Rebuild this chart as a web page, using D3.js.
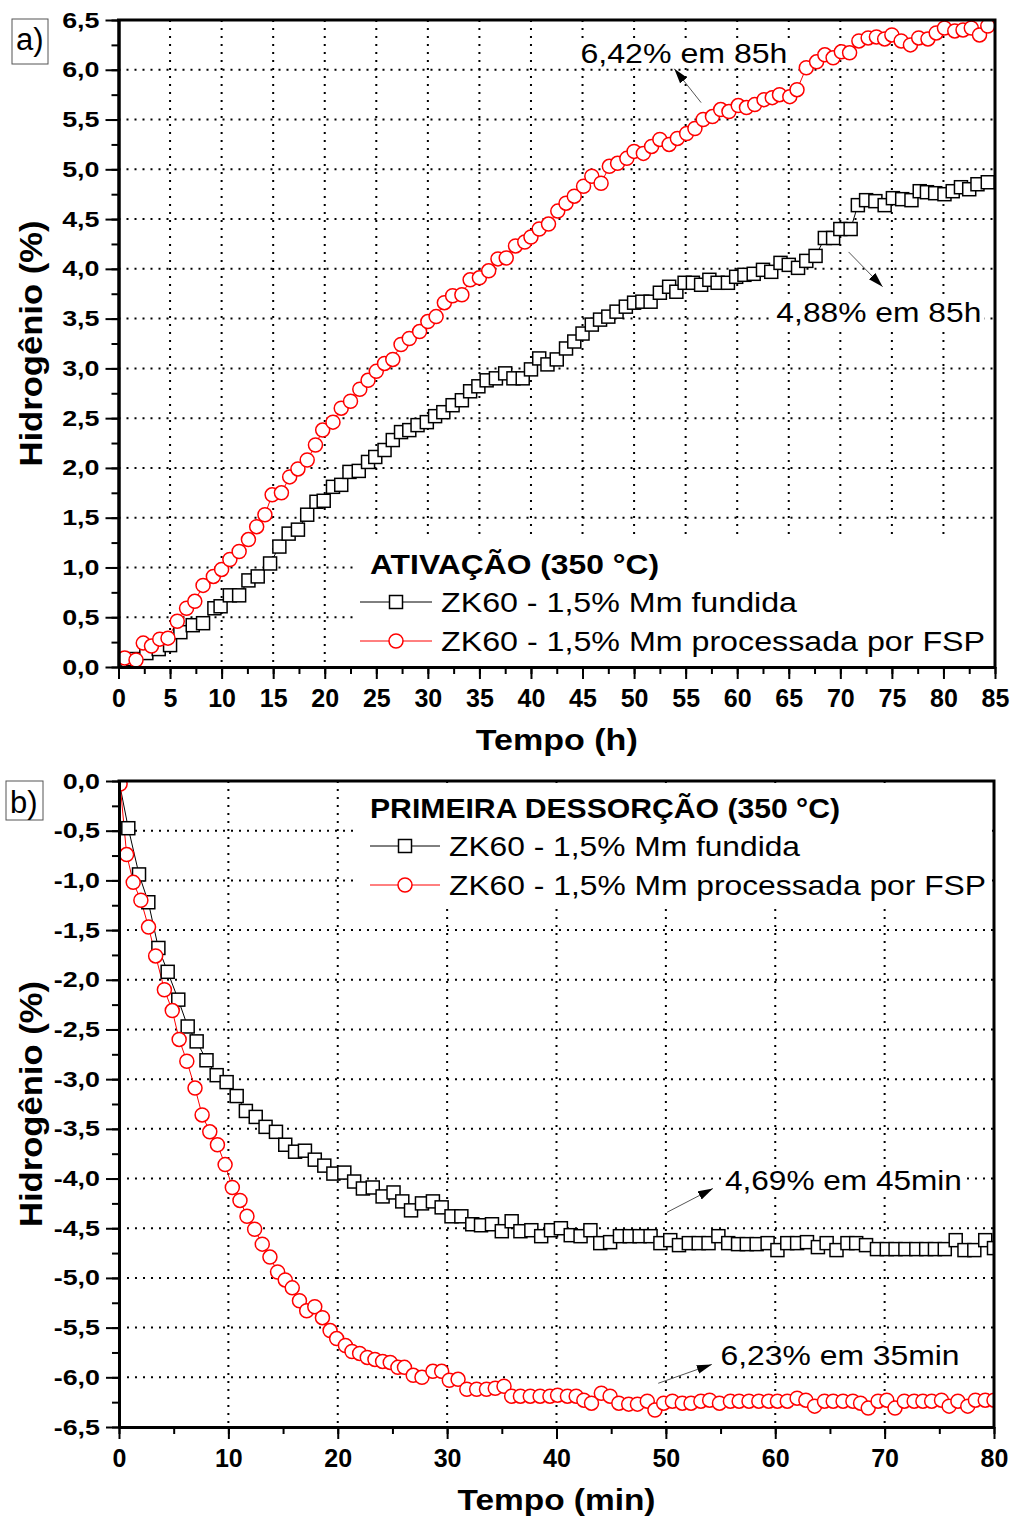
<!DOCTYPE html>
<html>
<head>
<meta charset="utf-8">
<script src="https://cdn.jsdelivr.net/npm/d3@7"></script>
<style>
  body { margin: 0; background: #fff; }
  svg text { font-family: Arial, "Liberation Sans", sans-serif; fill: #000; }
</style>
</head>
<body>
<script>
// panel a) activation at 350 °C, [tempo (h), hidrogenio (%)]
const fundidaA = [[1.4,0.08],[2.7,0.14],[3.9,0.18],[5.0,0.22],[6.0,0.35],[7.2,0.42],[8.2,0.44],[9.3,0.59],[9.9,0.61],[10.8,0.72],[11.7,0.72],[12.6,0.87],[13.5,0.91],[14.7,1.04],[15.6,1.21],[16.5,1.34],[17.4,1.38],[18.3,1.53],[19.2,1.66],[19.9,1.67],[20.8,1.81],[21.6,1.83],[22.4,1.96],[23.3,1.97],[24.2,2.06],[24.9,2.11],[25.8,2.18],[26.6,2.28],[27.4,2.36],[28.2,2.38],[29.0,2.43],[29.9,2.46],[30.7,2.52],[31.5,2.56],[32.4,2.63],[33.3,2.68],[34.1,2.77],[34.9,2.82],[35.7,2.88],[36.6,2.9],[37.5,2.95],[38.3,2.9],[39.2,2.9],[40.0,2.99],[40.8,3.1],[41.6,3.04],[42.5,3.09],[43.4,3.2],[44.2,3.27],[45.0,3.35],[45.9,3.44],[46.7,3.49],[47.5,3.52],[48.3,3.57],[49.2,3.62],[50.0,3.66],[50.8,3.67],[51.6,3.67],[52.5,3.76],[53.4,3.82],[54.1,3.77],[54.9,3.86],[55.7,3.86],[56.5,3.84],[57.3,3.89],[58.1,3.86],[59.1,3.86],[59.9,3.92],[60.7,3.94],[61.6,3.95],[62.5,3.99],[63.3,3.97],[64.2,4.06],[65.0,4.04],[65.9,4.01],[66.7,4.08],[67.6,4.13],[68.5,4.31],[69.3,4.31],[70.0,4.4],[71.0,4.4],[71.7,4.64],[72.5,4.69],[73.4,4.68],[74.3,4.64],[75.1,4.71],[76.0,4.7],[76.9,4.69],[77.7,4.78],[78.4,4.77],[79.2,4.76],[80.1,4.75],[80.9,4.78],[81.7,4.82],[82.5,4.8],[83.3,4.85],[84.3,4.87]];
const fspA = [[0.6,0.09],[1.7,0.07],[2.4,0.24],[3.2,0.21],[4.0,0.28],[4.8,0.29],[5.7,0.46],[6.6,0.59],[7.4,0.66],[8.2,0.82],[9.2,0.91],[10.0,0.98],[10.8,1.08],[11.7,1.16],[12.6,1.28],[13.4,1.41],[14.2,1.53],[14.9,1.73],[15.8,1.75],[16.6,1.91],[17.4,1.99],[18.3,2.08],[19.1,2.23],[19.8,2.38],[20.8,2.46],[21.6,2.6],[22.5,2.67],[23.4,2.79],[24.2,2.88],[25.0,2.97],[25.8,3.05],[26.6,3.09],[27.4,3.24],[28.2,3.3],[29.2,3.37],[30.0,3.47],[30.8,3.52],[31.6,3.66],[32.4,3.73],[33.3,3.74],[34.1,3.89],[35.0,3.91],[35.9,3.98],[36.8,4.1],[37.6,4.11],[38.5,4.23],[39.4,4.27],[40.0,4.32],[40.8,4.4],[41.7,4.45],[42.6,4.58],[43.4,4.66],[44.2,4.73],[45.1,4.83],[45.9,4.93],[46.8,4.86],[47.6,5.03],[48.4,5.06],[49.3,5.11],[50.0,5.18],[50.9,5.16],[51.7,5.23],[52.5,5.3],[53.4,5.25],[54.2,5.31],[55.1,5.36],[55.9,5.41],[56.7,5.5],[57.6,5.53],[58.4,5.6],[59.2,5.58],[60.1,5.64],[60.9,5.62],[61.7,5.65],[62.6,5.7],[63.4,5.72],[64.1,5.75],[65.1,5.73],[65.8,5.8],[66.7,6.02],[67.7,6.08],[68.5,6.15],[69.3,6.12],[70.1,6.18],[70.9,6.17],[71.8,6.29],[72.7,6.32],[73.5,6.33],[74.3,6.31],[75.0,6.35],[75.9,6.29],[76.8,6.25],[77.6,6.32],[78.5,6.31],[79.3,6.37],[80.1,6.42],[81.1,6.39],[81.9,6.4],[82.7,6.42],[83.5,6.35],[84.3,6.44]];

// panel b) first desorption at 350 °C, [tempo (min), hidrogenio (%)]
const fundidaB = [[0.85,-0.475],[1.83,-0.94],[2.68,-1.22],[3.6,-1.68],[4.45,-1.92],[5.42,-2.2],[6.28,-2.47],[7.1,-2.62],[8.0,-2.81],[8.93,-2.96],[9.84,-3.03],[10.76,-3.17],[11.6,-3.32],[12.5,-3.38],[13.4,-3.48],[14.35,-3.53],[15.2,-3.66],[16.1,-3.73],[17.0,-3.72],[17.9,-3.81],[18.77,-3.87],[19.6,-3.95],[20.6,-3.94],[21.5,-4.03],[22.3,-4.1],[23.2,-4.09],[24.1,-4.18],[25.1,-4.14],[25.9,-4.23],[26.7,-4.32],[27.7,-4.25],[28.7,-4.23],[29.5,-4.29],[30.4,-4.38],[31.3,-4.38],[32.3,-4.46],[33.1,-4.47],[34.1,-4.46],[35.0,-4.53],[35.9,-4.43],[36.7,-4.53],[37.7,-4.52],[38.6,-4.58],[39.5,-4.52],[40.4,-4.5],[41.3,-4.57],[42.2,-4.58],[43.1,-4.52],[44.0,-4.65],[44.9,-4.64],[45.8,-4.58],[46.7,-4.58],[47.6,-4.58],[48.6,-4.58],[49.5,-4.65],[50.4,-4.62],[51.2,-4.67],[52.1,-4.65],[53.0,-4.65],[53.9,-4.65],[54.8,-4.58],[55.7,-4.65],[56.6,-4.66],[57.4,-4.66],[58.3,-4.66],[59.3,-4.65],[60.2,-4.72],[61.1,-4.65],[62.0,-4.65],[62.9,-4.64],[63.9,-4.69],[64.7,-4.65],[65.6,-4.72],[66.6,-4.65],[67.4,-4.65],[68.3,-4.67],[69.3,-4.71],[70.2,-4.71],[71.0,-4.71],[71.9,-4.71],[72.9,-4.71],[73.8,-4.71],[74.6,-4.71],[75.5,-4.71],[76.5,-4.62],[77.3,-4.72],[78.2,-4.72],[79.2,-4.62],[80.0,-4.7]];
const fspB = [[0.1,-0.03],[0.7,-0.74],[1.3,-1.02],[2.0,-1.2],[2.7,-1.47],[3.35,-1.76],[4.15,-2.1],[4.87,-2.31],[5.5,-2.6],[6.2,-2.82],[6.95,-3.09],[7.6,-3.36],[8.3,-3.53],[9.0,-3.66],[9.7,-3.86],[10.36,-4.09],[11.06,-4.22],[11.7,-4.38],[12.4,-4.51],[13.1,-4.66],[13.8,-4.79],[14.5,-4.94],[15.2,-5.02],[15.84,-5.1],[16.5,-5.23],[17.16,-5.33],[17.9,-5.29],[18.6,-5.4],[19.3,-5.53],[19.9,-5.61],[20.7,-5.68],[21.3,-5.74],[22.0,-5.76],[22.7,-5.8],[23.4,-5.82],[24.1,-5.84],[24.8,-5.85],[25.5,-5.9],[26.1,-5.9],[26.9,-5.98],[27.7,-6.0],[28.7,-5.94],[29.5,-5.94],[30.2,-6.03],[31.0,-6.02],[31.8,-6.12],[32.7,-6.12],[33.6,-6.12],[34.4,-6.11],[35.2,-6.09],[35.9,-6.19],[36.7,-6.19],[37.6,-6.19],[38.5,-6.19],[39.4,-6.19],[40.1,-6.18],[41.0,-6.19],[41.8,-6.19],[42.5,-6.23],[43.2,-6.26],[44.1,-6.16],[44.9,-6.19],[45.7,-6.26],[46.6,-6.27],[47.4,-6.27],[48.3,-6.24],[49.0,-6.33],[49.8,-6.26],[50.6,-6.24],[51.5,-6.26],[52.3,-6.26],[53.2,-6.24],[54.0,-6.23],[54.9,-6.26],[55.9,-6.24],[56.7,-6.24],[57.6,-6.24],[58.5,-6.24],[59.4,-6.24],[60.2,-6.24],[61.1,-6.24],[62.0,-6.21],[62.8,-6.23],[63.6,-6.29],[64.5,-6.24],[65.3,-6.24],[66.2,-6.24],[67.1,-6.24],[67.8,-6.26],[68.5,-6.31],[69.4,-6.24],[70.2,-6.23],[70.95,-6.31],[71.8,-6.24],[72.7,-6.24],[73.5,-6.24],[74.3,-6.24],[75.2,-6.23],[75.9,-6.29],[76.7,-6.24],[77.6,-6.29],[78.3,-6.23],[79.2,-6.23],[80.0,-6.23]];

const xTicksA = d3.range(0, 86, 5);
const xMinorA = d3.range(0, 86, 2.5);
const yTicksA = d3.range(0, 6.51, 0.5);
const yMinorA = d3.range(0, 6.51, 0.25);
const xTicksB = d3.range(0, 81, 10);
const xMinorB = d3.range(0, 81, 5);
const yTicksB = d3.range(-6.5, 0.01, 0.5);
const yMinorB = d3.range(-6.5, 0.01, 0.25);

const legendNames = ["ZK60 - 1,5% Mm fundida", "ZK60 - 1,5% Mm processada por FSP"];

const svg = d3.select("body").append("svg")
    .attr("width", 1015)
    .attr("height", 1520);

const defs = svg.append("defs");
defs.append("marker")
    .attr("id", "head")
    .attr("markerUnits", "userSpaceOnUse")
    .attr("markerWidth", 16).attr("markerHeight", 12)
    .attr("refX", 15).attr("refY", 4.5)
    .attr("orient", "auto")
  .append("path")
    .attr("d", "M0,0 L15,4.5 L0,9 Z")
    .attr("fill", "#000");

const comma = d => (d < 0 ? "-" : "") + Math.abs(d).toFixed(1).replace(".", ",");

function stretch(sel, w) {
  sel.attr("textLength", w).attr("lengthAdjust", "spacingAndGlyphs");
}

function square(g, x, y) {
  g.append("rect")
    .attr("x", x - 6.5).attr("y", y - 6.5)
    .attr("width", 13).attr("height", 13)
    .attr("fill", "#fff").attr("stroke", "#000").attr("stroke-width", 1.5);
}

function circle(g, x, y) {
  g.append("circle")
    .attr("cx", x).attr("cy", y).attr("r", 7)
    .attr("fill", "#fff").attr("stroke", "#ff0000").attr("stroke-width", 1.5);
}

function panel(p) {
  const g = svg.append("g");
  const [x0, x1] = p.x.range();
  const [yb, yt] = p.y.range();

  // dotted grid
  g.append("g").selectAll("line")
    .data(p.xTicks.filter(d => d !== p.x.domain()[0] && d !== p.x.domain()[1]))
    .join("line")
      .attr("x1", d => p.x(d)).attr("x2", d => p.x(d))
      .attr("y1", yt).attr("y2", yb);
  g.append("g").selectAll("line")
    .data(p.yTicks.filter(d => d !== p.y.domain()[0] && d !== p.y.domain()[1]))
    .join("line")
      .attr("x1", x0).attr("x2", x1)
      .attr("y1", d => p.y(d)).attr("y2", d => p.y(d));
  g.selectAll("line")
    .attr("stroke", "#000").attr("stroke-width", 2)
    .attr("stroke-dasharray", "2,6");

  // legend box hides grid
  g.append("rect")
    .attr("x", p.legend.box[0]).attr("y", p.legend.box[1])
    .attr("width", x1 - p.legend.box[0] - 2).attr("height", p.legend.box[2])
    .attr("fill", "#fff");

  const clipId = "clip" + p.id;
  defs.append("clipPath").attr("id", clipId)
    .append("rect").attr("x", x0).attr("y", yt).attr("width", x1 - x0).attr("height", yb - yt);

  const data = g.append("g").attr("clip-path", `url(#${clipId})`);
  const line = d3.line().x(d => p.x(d[0])).y(d => p.y(d[1]));
  data.append("path").datum([p.start, ...p.black])
    .attr("d", line).attr("fill", "none").attr("stroke", "#000").attr("stroke-width", 1);
  data.append("path").datum([p.start, ...p.red])
    .attr("d", line).attr("fill", "none").attr("stroke", "#ff0000").attr("stroke-width", 1);
  const sq = data.append("g");
  p.black.forEach(d => square(sq, p.x(d[0]), p.y(d[1])));
  const ci = data.append("g");
  p.red.forEach(d => circle(ci, p.x(d[0]), p.y(d[1])));

  // axes
  const ax = g.append("g").attr("transform", `translate(0,${yb})`);
  ax.call(d3.axisBottom(p.x).tickValues(p.xMinor).tickSize(7).tickFormat("").tickSizeOuter(0));
  ax.append("g").call(d3.axisBottom(p.x).tickValues(p.xTicks).tickSize(12).tickPadding(10).tickSizeOuter(0));
  ax.selectAll("path").attr("stroke-width", 3);
  ax.selectAll(".tick line").attr("stroke-width", 2);
  ax.selectAll("text").attr("font-size", 25).attr("font-weight", "bold")
    .attr("font-family", "Arial, 'Liberation Sans', sans-serif");

  const ay = g.append("g").attr("transform", `translate(${x0},0)`);
  ay.call(d3.axisLeft(p.y).tickValues(p.yMinor).tickSize(7).tickFormat("").tickSizeOuter(0));
  ay.append("g").call(d3.axisLeft(p.y).tickValues(p.yTicks).tickSize(13).tickPadding(6)
      .tickFormat(comma).tickSizeOuter(0));
  ay.selectAll("path").attr("stroke-width", 3);
  ay.selectAll(".tick line").attr("stroke-width", 2);
  ay.selectAll("text").attr("font-size", 22).attr("font-weight", "bold")
    .attr("font-family", "Arial, 'Liberation Sans', sans-serif")
    .each(function() {
      const w = this.getComputedTextLength();
      stretch(d3.select(this), w * 1.22);
    });

  // frame
  g.append("path")
    .attr("d", `M${x0},${yt} H${x1} V${yb}`)
    .attr("fill", "none").attr("stroke", "#000").attr("stroke-width", 3)
    .attr("stroke-linecap", "square");

  // axis titles
  g.append("text")
    .attr("x", (x0 + x1) / 2).attr("y", p.xTitle[1])
    .attr("text-anchor", "middle").attr("font-size", 30).attr("font-weight", "bold")
    .text(p.xTitle[0]).call(stretch, p.xTitle[2]);
  g.append("text")
    .attr("transform", `translate(42,${(yt + yb) / 2}) rotate(-90)`)
    .attr("text-anchor", "middle").attr("font-size", 31).attr("font-weight", "bold")
    .text("Hidrogênio (%)").call(stretch, 246);

  // legend
  const L = p.legend;
  g.append("text").attr("x", 370).attr("y", L.titleY)
    .attr("font-size", 28).attr("font-weight", "bold")
    .text(L.title).call(stretch, L.titleW);
  legendNames.forEach((name, i) => {
    const ly = L.rows[i];
    g.append("line")
      .attr("x1", L.line[0]).attr("x2", L.line[1]).attr("y1", ly).attr("y2", ly)
      .attr("stroke", i ? "#ff0000" : "#000").attr("stroke-width", 1);
    (i ? circle : square)(g, (L.line[0] + L.line[1]) / 2, ly);
    g.append("text").attr("x", L.line[1] + 9).attr("y", ly + 10)
      .attr("font-size", 28)
      .text(name).call(stretch, L.widths[i]);
  });

  // annotations with arrows
  p.notes.forEach(n => {
    const tx = p.x(n.at[0]), ty = p.y(n.at[1]);
    g.append("rect")
      .attr("x", tx - 3).attr("y", ty - 23).attr("width", n.w + 6).attr("height", 28)
      .attr("fill", "#fff");
    g.append("text").attr("x", tx).attr("y", ty)
      .attr("font-size", 28).text(n.text).call(stretch, n.w);
    g.append("line")
      .attr("x1", p.x(n.from[0])).attr("y1", p.y(n.from[1]))
      .attr("x2", p.x(n.to[0])).attr("y2", p.y(n.to[1]))
      .attr("stroke", "#555").attr("stroke-width", 1)
      .attr("marker-end", "url(#head)");
  });

  // panel label
  g.append("rect")
    .attr("x", p.tag.box[0]).attr("y", p.tag.box[1])
    .attr("width", p.tag.box[2]).attr("height", p.tag.box[3])
    .attr("fill", "#fff").attr("stroke", "#555").attr("stroke-width", 1);
  g.append("text")
    .attr("x", p.tag.box[0] + 4).attr("y", p.tag.baseline)
    .attr("font-size", 31).text(p.tag.text);
}

panel({
  id: "a",
  x: d3.scaleLinear().domain([0, 85]).range([118.5, 995]),
  y: d3.scaleLinear().domain([0, 6.5]).range([667, 20]),
  xTicks: xTicksA, xMinor: xMinorA, yTicks: yTicksA, yMinor: yMinorA,
  start: [0, 0], black: fundidaA, red: fspA,
  xTitle: ["Tempo (h)", 750, 162],
  legend: { box: [355, 540, 125], title: "ATIVAÇÃO (350 °C)", titleY: 574, titleW: 289,
            rows: [602, 641], line: [360, 432], widths: [356, 544] },
  notes: [
    { text: "6,42% em 85h", at: [44.8, 6.07], w: 207, from: [56.5, 5.67], to: [53.9, 6.01] },
    { text: "4,88% em 85h", at: [63.8, 3.47], w: 205, from: [70.8, 4.17], to: [74.1, 3.82] }
  ],
  tag: { text: "a)", box: [12, 19, 36, 45], baseline: 50 }
});

panel({
  id: "b",
  x: d3.scaleLinear().domain([0, 80]).range([119, 994]),
  y: d3.scaleLinear().domain([-6.5, 0]).range([1427, 781]),
  xTicks: xTicksB, xMinor: xMinorB, yTicks: yTicksB, yMinor: yMinorB,
  start: [0, 0], black: fundidaB, red: fspB,
  xTitle: ["Tempo (min)", 1510, 198],
  legend: { box: [355, 783, 122], title: "PRIMEIRA DESSORÇÃO (350 °C)", titleY: 818, titleW: 470,
            rows: [846, 885], line: [370, 440], widths: [351, 537] },
  notes: [
    { text: "4,69% em 45min", at: [55.4, -4.12], w: 237, from: [50.1, -4.34], to: [54.3, -4.1] },
    { text: "6,23% em 35min", at: [55.0, -5.88], w: 239, from: [49.3, -6.06], to: [54.2, -5.87] }
  ],
  tag: { text: "b)", box: [6, 781, 37, 39], baseline: 813 }
});
</script>
</body>
</html>
